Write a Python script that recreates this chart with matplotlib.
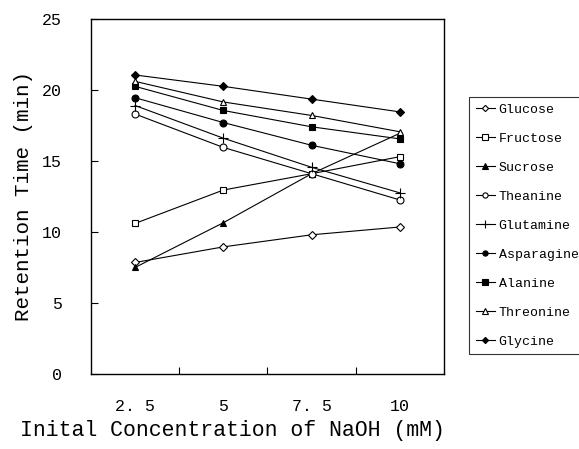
import numpy as np
import matplotlib
matplotlib.use("Agg")
import matplotlib.pyplot as plt

plt.rcParams['font.family'] = ['Liberation Mono', 'DejaVu Sans Mono']

concentrations = ['2. 5', '5', '7. 5', '10']

glucose = [7.85, 8.95, 9.8, 10.35]
fructose = [10.6, 12.95, 14.1, 15.3]
sucrose = [7.5, 10.65, 14.1, 16.95]
theanine = [18.3, 15.95, 14.1, 12.25]
glutamine = [18.9, 16.6, 14.55, 12.75]
asparagine = [19.45, 17.7, 16.1, 14.8]
alanine = [20.25, 18.55, 17.4, 16.55]
threonine = [20.6, 19.15, 18.2, 17.05]
glycine = [21.05, 20.25, 19.35, 18.45]

series = [
    ('Glucose', glucose, 'D', 'white'),
    ('Fructose', fructose, 's', 'white'),
    ('Sucrose', sucrose, '^', 'black'),
    ('Theanine', theanine, 'o', 'white'),
    ('Glutamine', glutamine, '+', 'black'),
    ('Asparagine', asparagine, 'o', 'black'),
    ('Alanine', alanine, 's', 'black'),
    ('Threonine', threonine, '^', 'white'),
    ('Glycine', glycine, 'D', 'black'),
]

fig = plt.figure(figsize=(5.79, 4.49), dpi=100)
ax = fig.add_axes([0.157, 0.167, 0.610, 0.791])

x = np.arange(1, len(concentrations) + 1)
for name, vals, mk, fc in series:
    ms = 4.2 if mk == 'D' else 5
    if mk == '+':
        ms = 7
    ax.plot(x, vals, color='black', lw=0.8, marker=mk, ms=ms,
            mfc=fc, mec='black', mew=0.8, label=name)

ax.set_xlim(0.5, 4.5)
ax.set_ylim(0, 25)
ax.set_yticks(np.arange(0, 26, 5))
ax.set_xticks(x)
ax.set_xticklabels(concentrations)
ax.set_xticks([1.5, 2.5, 3.5], minor=True)
ax.tick_params(axis='x', which='major', length=0, pad=18, labelsize=12)
ax.tick_params(axis='x', which='minor', direction='in', length=5, width=0.8)
ax.tick_params(axis='y', direction='in', length=5, width=0.8, pad=21, labelsize=12)
for s in ax.spines.values():
    s.set_linewidth(1.0)

ax.set_ylabel('Retention Time (min)', fontsize=15, labelpad=6)
ax.set_xlabel('Inital Concentration of NaOH (mM)', fontsize=15.5)
ax.xaxis.set_label_coords(0.402, -0.13)

leg = fig.legend(loc='upper left', bbox_to_anchor=(0.81, 0.784),
                 borderaxespad=0, fontsize=9.5, frameon=True, fancybox=False,
                 edgecolor='black', handlelength=1.5, handletextpad=0.25,
                 labelspacing=1.27, borderpad=0.5, markerscale=0.75)
leg.get_frame().set_linewidth(0.8)

fig.savefig('out.png', dpi=100)
